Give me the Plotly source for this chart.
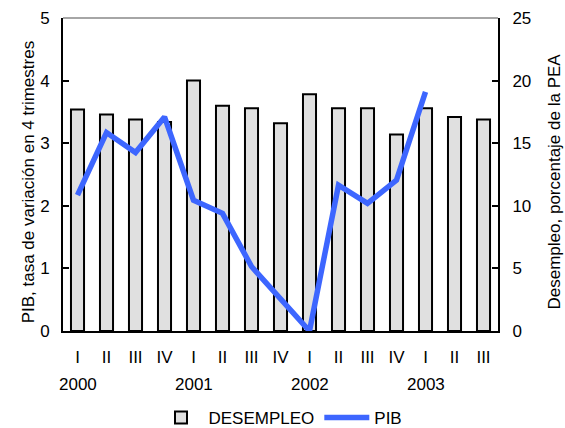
import plotly.graph_objects as go

quarters = ["I", "II", "III", "IV", "I", "II", "III", "IV", "I", "II", "III", "IV", "I", "II", "III"]
years = ["2000", "2001", "2002", "2003"]
year_pos = [0, 4, 8, 12]
desempleo = [17.7, 17.3, 16.9, 16.7, 20.0, 18.0, 17.8, 16.6, 18.9, 17.8, 17.8, 15.7, 17.8, 17.1, 16.9]
pib = [2.17, 3.17, 2.85, 3.42, 2.09, 1.88, 1.03, 0.5, 0.0, 2.33, 2.04, 2.41, 3.82, None, None]

xs = list(range(len(quarters)))
FONT = "Liberation Sans, Arial, sans-serif"
FS = 17

fig = go.Figure()
fig.add_trace(go.Bar(
    x=xs, y=desempleo, name="DESEMPLEO", yaxis="y",
    marker=dict(color="#e0e0e0", line=dict(color="black", width=2)),
    width=0.45,
))
fig.add_trace(go.Scatter(
    x=xs, y=pib, name="PIB", yaxis="y2", mode="lines",
    line=dict(color="#3d66ff", width=5.5),
))

for yr, p in zip(years, year_pos):
    fig.add_annotation(x=p, y=-0.1725, xref="x", yref="paper", text=yr,
                       xanchor="center", yanchor="middle",
                       showarrow=False, font=dict(size=FS, color="black", family=FONT))

# axis titles
fig.add_annotation(x=-0.0805, y=0.478, xref="paper", yref="paper", textangle=-90,
                   xanchor="center", yanchor="middle",
                   text="PIB, tasa de variación en 4 trimestres", showarrow=False,
                   font=dict(size=FS, color="black", family=FONT))
fig.add_annotation(x=1.129, y=0.478, xref="paper", yref="paper", textangle=-90,
                   xanchor="center", yanchor="middle",
                   text="Desempleo, porcentaje de la PEA", showarrow=False,
                   font=dict(size=FS, color="black", family=FONT))

fig.add_shape(type="line", xref="paper", yref="paper", x0=0, x1=1, y0=1, y1=1,
              line=dict(color="#888888", width=1.5))

fig.update_layout(
    width=565, height=428,
    margin=dict(l=63, r=67, t=18, b=97, autoexpand=False),
    paper_bgcolor="white", plot_bgcolor="white",
    font=dict(family=FONT, size=FS, color="black"),
    showlegend=True,
    legend=dict(orientation="h", x=0.5, xanchor="center", y=-0.278, yanchor="middle",
                font=dict(size=FS), traceorder="normal", itemwidth=45),
    xaxis=dict(
        tickmode="array", tickvals=xs, ticktext=quarters,
        range=[-0.5, 14.5], showgrid=False, showline=True, linecolor="black", linewidth=2,
        ticks="", ticklabelstandoff=10, tickfont=dict(size=FS), automargin=False,
    ),
    yaxis=dict(
        side="right", range=[0, 25], dtick=5, showgrid=False, zeroline=False,
        showline=True, linecolor="black", linewidth=2,
        ticks="inside", ticklen=6, tickwidth=2, tickcolor="black",
        tickfont=dict(size=FS), ticklabelstandoff=9, automargin=False,
    ),
    yaxis2=dict(
        side="left", overlaying="y", range=[0, 5], dtick=1, showgrid=False, zeroline=False,
        showline=True, linecolor="black", linewidth=2,
        ticks="inside", ticklen=6, tickwidth=2, tickcolor="black",
        tickfont=dict(size=FS), ticklabelstandoff=8, automargin=False,
    ),
)

fig.write_html("out.html", config={"displayModeBar": False},
               post_script="document.body.style.margin='0';document.body.style.overflow='hidden';")
